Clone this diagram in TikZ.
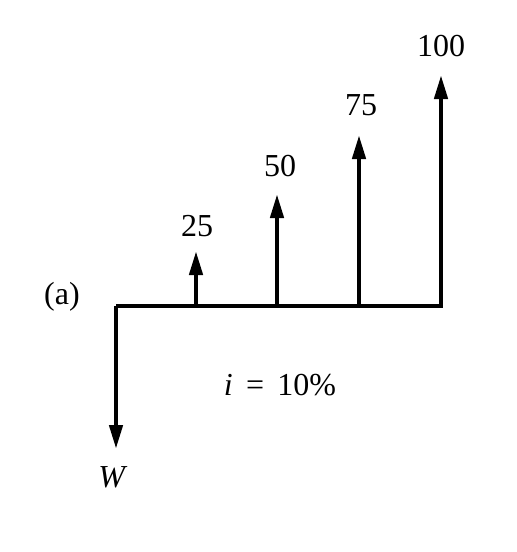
\documentclass[tikz,border=0pt]{standalone}
\usepackage{fontspec}
\setmainfont{Liberation Serif}
\usetikzlibrary{arrows.meta}
\begin{document}
\begin{tikzpicture}[x=0.5pt,y=-0.5pt,
  flow/.style={line width=2.2pt,-{Triangle[width=6.5pt,length=12pt]}},
  base/.style={line width=1.6pt},
  lbl/.style={font=\fontsize{16}{19}\selectfont,inner sep=0pt}]
\useasboundingbox (0,0) rectangle (516,552);
\coordinate (L) at (116,306);
\coordinate (R) at (443,306);
\coordinate (b1) at (196,306);
\coordinate (b2) at (277,306);
\coordinate (b3) at (359,306);
\coordinate (b4) at (441,306);
\coordinate (t1) at (196,251);
\coordinate (t2) at (277,194);
\coordinate (t3) at (359,135);
\coordinate (t4) at (441,75);
\coordinate (tw) at (116,449);
\draw[base] (L) -- (R);
\draw[flow] (L) -- (tw);
\draw[flow] (b1) -- (t1);
\draw[flow] (b2) -- (t2);
\draw[flow] (b3) -- (t3);
\draw[flow] (b4) -- (t4);
\node[lbl] (n1) at (197,226) {25};
\node[lbl] (n2) at (280,166) {50};
\node[lbl] (n3) at (361,105) {75};
\node[lbl] (n4) at (441,46) {100};
\node[lbl] (nw) at (113,477) {\textit{W}};
\node[lbl] (na) at (62,297) {(a)};
\node[lbl] (ni) at (280,385) {\textit{i}\, =\, 10\%};
\end{tikzpicture}
\end{document}
